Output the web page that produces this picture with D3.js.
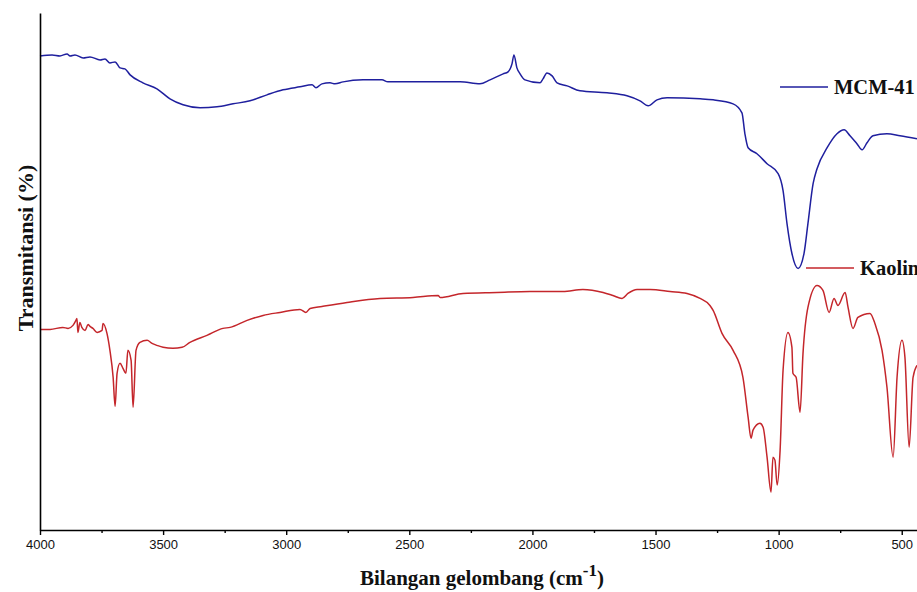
<!DOCTYPE html>
<html>
<head>
<meta charset="utf-8">
<script src="https://cdn.jsdelivr.net/npm/d3@7"></script>
<style>
  html, body { margin: 0; padding: 0; background: #fff; }
  svg { display: block; }
</style>
</head>
<body>
<svg id="chart" width="917" height="592"></svg>
<script>
// Wavenumber (cm-1) and transmittance (arbitrary %, offset-stacked)
const mcmWavenumber = [4000,3951,3919,3890,3878,3858,3825,3797,3756,3736,3716,3695,3675,3655,3634,3582,3525,3472,3419,3350,3281,3216,3147,3078,3013,2944,2895,2879,2855,2822,2802,2769,2688,2611,2587,2485,2375,2294,2213,2172,2119,2099,2083,2075,2063,2050,2030,1969,1957,1941,1920,1900,1859,1807,1697,1616,1563,1530,1494,1453,1319,1266,1185,1149,1137,1124,1088,1047,1002,982,966,946,921,897,881,860,844,803,763,734,710,682,661,641,617,560,507,438];
const mcmTransmittance = [93.0,93.2,93.0,93.4,93.0,93.2,92.6,92.8,92.2,92.4,91.6,91.8,90.6,90.4,89.2,87.6,86.4,84.4,83.2,82.6,82.8,83.4,84.0,85.2,86.2,86.8,87.2,86.6,87.4,87.6,87.4,87.8,88.2,88.2,87.8,87.8,87.8,87.8,87.4,88.2,89.4,89.8,91.4,93.2,90.6,89.4,88.2,87.6,88.4,89.6,89.0,87.6,87.0,86.0,85.6,85.0,84.0,83.0,84.2,84.6,84.4,84.2,83.4,81.6,77.4,74.6,73.4,71.4,69.4,66.0,59.4,53.4,50.4,53.4,59.4,67.4,70.4,74.6,77.4,78.2,77.0,75.4,74.2,75.6,77.0,77.4,77.0,76.4];

const kaolinWavenumber = [4000,3959,3907,3886,3866,3854,3850,3846,3838,3830,3817,3805,3797,3785,3768,3748,3744,3728,3716,3703,3695,3687,3675,3663,3651,3643,3630,3622,3610,3594,3565,3545,3525,3500,3460,3423,3391,3322,3257,3228,3159,3094,3025,2944,2920,2903,2855,2753,2619,2485,2383,2375,2282,2144,2010,1876,1795,1713,1673,1636,1612,1575,1522,1441,1372,1319,1279,1266,1230,1185,1145,1124,1112,1104,1076,1063,1047,1031,1023,1015,1006,994,982,962,946,942,929,913,901,881,844,820,795,775,759,730,718,698,678,629,609,580,560,535,519,499,487,470,454,438];
const kaolinTransmittance = [38.2,38.2,38.6,38.4,39.0,40.0,40.4,37.6,39.6,38.6,38.0,39.2,38.8,38.4,37.6,38.0,39.4,37.4,34.0,28.6,22.8,29.4,31.4,30.4,29.4,34.0,32.0,22.6,34.0,35.6,36.0,35.4,35.0,34.6,34.4,34.6,35.6,37.0,38.4,38.6,40.0,41.0,41.6,42.2,41.6,42.4,42.8,43.6,44.4,44.6,45.0,44.6,45.4,45.6,45.8,45.8,46.2,45.6,45.0,44.4,45.4,46.2,46.2,45.8,45.4,44.4,43.0,42.0,37.4,34.0,28.6,20.6,16.4,18.0,19.4,18.6,12.6,5.6,12.6,12.0,7.0,14.0,30.0,37.6,34.6,29.4,28.6,21.6,33.4,42.6,47.0,46.0,41.6,44.4,43.0,45.6,42.6,38.4,40.6,41.4,39.4,34.0,26.6,12.6,28.6,36.0,32.6,14.6,28.6,31.0];

const xTicks = [4000,3500,3000,2500,2000,1500,1000,500];
const xMinorTicks = [3750,3250,2750,2250,1750,1250,750];
const seriesNames = ["MCM-41","Kaolin"];
const seriesColors = ["#1f1f9e","#c4262b"];

const svg = d3.select("#chart");
const margin = {left: 40, right: 0, top: 13, bottom: 62};
const W = 917, H = 592;

const x = d3.scaleLinear().domain([4000, 438]).range([margin.left, W - margin.right]);
const y = d3.scaleLinear().domain([-2, 101.6]).range([H - margin.bottom, margin.top]);

const series = [
  {name: seriesNames[0], color: seriesColors[0], data: mcmWavenumber.map((w,i)=>({w, t: mcmTransmittance[i]}))},
  {name: seriesNames[1], color: seriesColors[1], data: kaolinWavenumber.map((w,i)=>({w, t: kaolinTransmittance[i]}))}
];

const line = d3.line().x(d => x(d.w)).y(d => y(d.t)).curve(d3.curveMonotoneX);

// lines
svg.append("g").selectAll("path").data(series).join("path")
  .attr("d", d => line(d.data))
  .attr("fill", "none")
  .attr("stroke", d => d.color)
  .attr("stroke-width", 1.5)
  .attr("stroke-linejoin", "round");

// x axis
const xAxis = svg.append("g")
  .attr("transform", `translate(0,${y(-2)})`)
  .call(d3.axisBottom(x).tickValues(xTicks).tickSize(5).tickSizeOuter(0).tickPadding(5).tickFormat(d3.format("d")));
xAxis.select(".domain").attr("stroke", "#000").attr("stroke-width", 1.6);
xAxis.selectAll(".tick line").attr("stroke", "#000").attr("stroke-width", 1.4);
xAxis.selectAll(".tick text")
  .attr("font-family", "'Liberation Sans', Arial, sans-serif")
  .attr("font-size", 13).attr("fill", "#111");

const xMinor = svg.append("g")
  .attr("transform", `translate(0,${y(-2)})`)
  .call(d3.axisBottom(x).tickValues(xMinorTicks).tickSize(3).tickSizeOuter(0).tickFormat(""));
xMinor.select(".domain").remove();
xMinor.selectAll(".tick line").attr("stroke", "#000").attr("stroke-width", 1.4);

// y axis (no ticks)
const yAxis = svg.append("g")
  .attr("transform", `translate(${margin.left},0)`)
  .call(d3.axisLeft(y).tickValues([]).tickSizeOuter(0));
yAxis.select(".domain").attr("stroke", "#000").attr("stroke-width", 1.6);

// axis titles
const xt = svg.append("text")
  .attr("x", 482).attr("y", 585)
  .attr("text-anchor", "middle")
  .attr("font-family", "'Liberation Serif', 'Times New Roman', serif")
  .attr("font-weight", "bold")
  .attr("font-size", 21)
  .attr("fill", "#111");
xt.append("tspan").text("Bilangan gelombang (cm");
xt.append("tspan").attr("dy", -9).attr("font-size", 17).text("-1");
xt.append("tspan").attr("dy", 9).text(")");

svg.append("text")
  .attr("transform", "translate(33,248) rotate(-90)")
  .attr("text-anchor", "middle")
  .attr("font-family", "'Liberation Serif', 'Times New Roman', serif")
  .attr("font-weight", "bold")
  .attr("font-size", 22)
  .attr("fill", "#111")
  .text("Transmitansi (%)");

// legend labels placed next to the curves
const legendPos = [{x1: 780, y: 87}, {x1: 806, y: 268}];
const lg = svg.append("g").selectAll("g").data(series).join("g")
  .attr("transform", (d,i) => `translate(${legendPos[i].x1},${legendPos[i].y})`);
lg.append("line").attr("x1", 0).attr("x2", 48).attr("y1", 0).attr("y2", 0)
  .attr("stroke", d => d.color).attr("stroke-width", 1.6);
lg.append("text").attr("x", 54).attr("y", 7)
  .attr("font-family", "'Liberation Serif', 'Times New Roman', serif")
  .attr("font-weight", "bold").attr("font-size", 20.5).attr("fill", "#111")
  .text(d => d.name);
</script>
</body>
</html>
